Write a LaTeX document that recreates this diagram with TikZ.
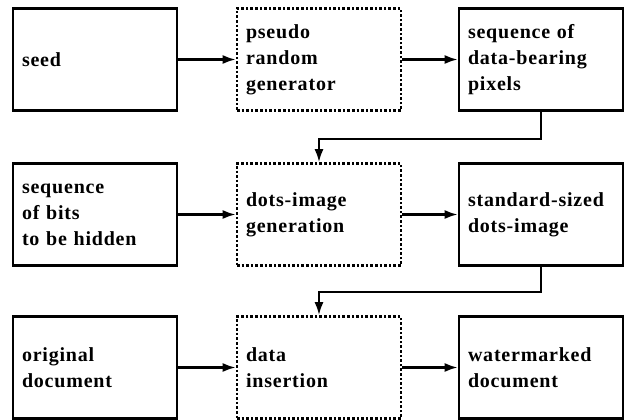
\documentclass[tikz,border=0pt]{standalone}
\usepackage{fontspec}
\setmainfont{Liberation Serif}[LetterSpace=4]
\usetikzlibrary{arrows.meta}
\begin{document}
\begin{tikzpicture}[x=1pt,y=-1pt,
  box/.style={draw, line width=2.6pt, minimum width=164pt, minimum height=102pt,
    text width=146pt, align=left, inner sep=0pt,
    font=\fontsize{20}{26}\selectfont\bfseries},
  dbox/.style={box, dotted},
  conn/.style={line width=2.2pt, -{Latex[length=13pt,width=9pt]}}]
\useasboundingbox (0,0) rectangle (624,420);
\node[box]  (seed) at (95,59.5)  {seed};
\node[dbox] (prg)  at (319,59.5) {pseudo\\random\\generator};
\node[box]  (seq)  at (541,59.5) {sequence of\\data-bearing\\pixels};
\node[box]  (bits) at (95,214.5) {sequence\\of bits\\to be hidden};
\node[dbox] (dig)  at (319,214.5) {dots-image\\generation};
\node[box]  (std)  at (541,214.5) {standard-sized\\dots-image};
\node[box]  (orig) at (95,367.5) {original\\document};
\node[dbox] (ins)  at (319,367.5) {data\\insertion};
\node[box]  (wm)   at (541,367.5) {watermarked\\document};
\draw[conn] (seed) -- (prg);
\draw[conn] (prg) -- (seq);
\draw[conn] (bits) -- (dig);
\draw[conn] (dig) -- (std);
\draw[conn] (orig) -- (ins);
\draw[conn] (ins) -- (wm);
\draw[conn] (seq.south) -- ++(0,27) -| (dig.north);
\draw[conn] (std.south) -- ++(0,25) -| (ins.north);
\end{tikzpicture}
\end{document}
